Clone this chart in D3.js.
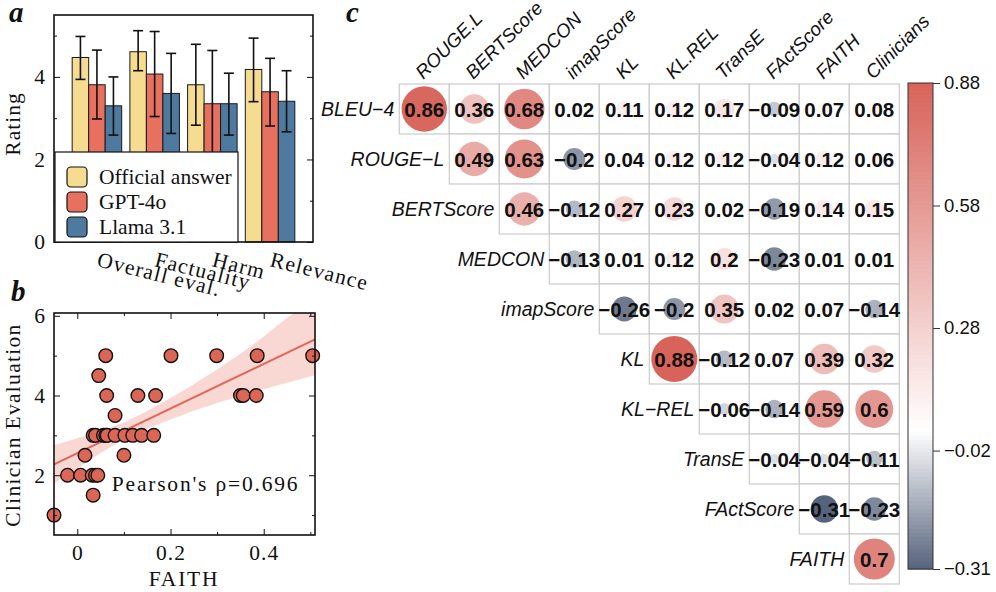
<!DOCTYPE html>
<html><head><meta charset="utf-8">
<script src="https://cdn.jsdelivr.net/npm/d3@7"></script>
<style>body{margin:0;background:#fff} svg{display:block}</style>
</head><body>
<svg id="chart" width="996" height="592"></svg>
<script>
// ---------- Panel a data ----------
const groups = ["Overall eval.", "Factuality", "Harm", "Relevance"];
const seriesNames = ["Official answer", "GPT-4o", "Llama 3.1"];
const seriesColors = ["#F6DC90", "#E8705F", "#4F7AA0"];
const officialMean = [4.47, 4.61, 3.81, 4.18];
const officialLo   = [3.94, 4.15, 2.83, 3.40];
const officialHi   = [4.98, 5.12, 4.79, 4.94];
const gptMean = [3.81, 4.07, 3.35, 3.64];
const gptLo   = [2.98, 3.04, 2.07, 2.81];
const gptHi   = [4.65, 5.10, 4.64, 4.45];
const llamaMean = [3.30, 3.60, 3.35, 3.41];
const llamaLo   = [2.59, 2.63, 2.59, 2.67];
const llamaHi   = [4.00, 4.57, 4.09, 4.15];
const ratingMajor = [0, 2, 4];
const ratingMinor = [1, 3, 5];

// ---------- Panel b data ----------
const faithX = [-0.05, -0.021, 0.007, 0.032, 0.039, 0.044, 0.034, 0.0165, 0.100,
  0.034, 0.039, 0.056, 0.061, 0.064, 0.081, 0.102, 0.119, 0.138, 0.164,
  0.081, 0.063, 0.130, 0.168, 0.350, 0.356, 0.384, 0.046,
  0.061, 0.201, 0.299, 0.386, 0.505];
const clinY = [1, 2, 2, 2, 2, 2, 1.5, 2.5, 2.5,
  3, 3, 3, 3, 3, 3, 3, 3, 3, 3,
  3.5, 4, 4, 4, 4, 4, 4, 4.5,
  5, 5, 5, 5, 5];
const fitX = [-0.05, 0.51];
const fitY = [2.27, 5.41];
const bandX  = [-0.05, 0.0, 0.05, 0.1, 0.15, 0.2, 0.25, 0.3, 0.35, 0.4, 0.45, 0.51];
const bandHi = [2.75, 2.93, 3.10, 3.32, 3.61, 3.94, 4.28, 4.65, 5.05, 5.48, 5.95, 6.40];
const bandLo = [1.79, 2.17, 2.56, 2.90, 3.17, 3.40, 3.62, 3.81, 3.99, 4.16, 4.32, 4.51];
const faithMajor = [0, 0.2, 0.4];
const faithMinor = [0.1, 0.3, 0.5];
const clinMajor = [2, 4, 6];
const clinMinor = [1, 3, 5];
const pearsonText = "Pearson's \u03C1=0.696";

// ---------- Panel c data ----------
const rowLabels = ["BLEU\u22124", "ROUGE\u2212L", "BERTScore", "MEDCON", "imapScore", "KL", "KL\u2212REL", "TransE", "FActScore", "FAITH"];
const colLabels = ["ROUGE.L", "BERTScore", "MEDCON", "imapScore", "KL", "KL.REL", "TransE", "FActScore", "FAITH", "Clinicians"];
const corrRows = [
  [0.86, 0.36, 0.68, 0.02, 0.11, 0.12, 0.17, -0.09, 0.07, 0.08],
  [0.49, 0.63, -0.2, 0.04, 0.12, 0.12, -0.04, 0.12, 0.06],
  [0.46, -0.12, 0.27, 0.23, 0.02, -0.19, 0.14, 0.15],
  [-0.13, 0.01, 0.12, 0.2, -0.23, 0.01, 0.01],
  [-0.26, -0.2, 0.35, 0.02, 0.07, -0.14],
  [0.88, -0.12, 0.07, 0.39, 0.32],
  [-0.06, -0.14, 0.59, 0.6],
  [-0.04, -0.04, -0.11],
  [-0.31, -0.23],
  [0.7]
];
const colorbarTicks = [0.88, 0.58, 0.28, -0.02, -0.31];

const SERIF = "'Liberation Serif', 'Times New Roman', serif";
const SANS = "'Liberation Sans', Arial, Helvetica, sans-serif";
const svg = d3.select("#chart");

// ================= Panel a =================
const gA = svg.append("g");
const xA = d3.scaleBand().domain(groups).range([54, 313]).paddingInner(0.142).paddingOuter(0.315);
const xS = d3.scaleBand().domain(seriesNames).range([0, xA.bandwidth()]);
const yA = d3.scaleLinear().domain([0, 5.5]).range([242, 15]);
const means = [officialMean, gptMean, llamaMean];
const lows = [officialLo, gptLo, llamaLo];
const highs = [officialHi, gptHi, llamaHi];

const barData = [];
seriesNames.forEach((s, si) => groups.forEach((g, gi) => barData.push({
  s, si, g, m: means[si][gi], lo: lows[si][gi], hi: highs[si][gi]
})));

gA.selectAll("rect.bar").data(barData).join("rect").attr("class", "bar")
  .attr("x", d => xA(d.g) + xS(d.s)).attr("width", xS.bandwidth())
  .attr("y", d => yA(d.m)).attr("height", d => yA(0) - yA(d.m))
  .attr("fill", d => seriesColors[d.si]).attr("stroke", "#1a1a1a").attr("stroke-width", 1);

const eb = gA.selectAll("g.eb").data(barData).join("g").attr("class", "eb")
  .attr("stroke", "#111").attr("stroke-width", 1.6);
eb.append("line").attr("x1", d => xA(d.g) + xS(d.s) + xS.bandwidth() / 2)
  .attr("x2", d => xA(d.g) + xS(d.s) + xS.bandwidth() / 2)
  .attr("y1", d => yA(d.lo)).attr("y2", d => yA(d.hi));
[ "lo", "hi" ].forEach(k => eb.append("line")
  .attr("x1", d => xA(d.g) + xS(d.s) + xS.bandwidth() / 2 - 5)
  .attr("x2", d => xA(d.g) + xS(d.s) + xS.bandwidth() / 2 + 5)
  .attr("y1", d => yA(d[k])).attr("y2", d => yA(d[k])));

function styleAxis(g, fontSize) {
  g.select(".domain").remove();
  g.selectAll(".tick line").attr("stroke", "#111").attr("stroke-width", 1);
  g.selectAll("text").attr("font-family", SERIF).attr("font-size", fontSize)
    .attr("fill", "#111").attr("letter-spacing", "1px");
}
gA.append("g").attr("transform", "translate(54,0)")
  .call(d3.axisLeft(yA).tickValues(ratingMajor).tickSize(-6).tickPadding(8).tickFormat(d3.format("d")))
  .call(g => styleAxis(g, 21.5));
gA.append("g").attr("transform", "translate(54,0)")
  .call(d3.axisLeft(yA).tickValues(ratingMinor).tickSize(-3).tickFormat(""))
  .call(g => styleAxis(g, 21.5));
gA.append("g").attr("transform", "translate(313,0)")
  .call(d3.axisRight(yA).tickValues(ratingMajor).tickSize(-6).tickFormat(""))
  .call(g => styleAxis(g, 21.5));
gA.append("g").attr("transform", "translate(313,0)")
  .call(d3.axisRight(yA).tickValues(ratingMinor).tickSize(-3).tickFormat(""))
  .call(g => styleAxis(g, 21.5));

gA.append("rect").attr("x", 54).attr("y", 15).attr("width", 259).attr("height", 227)
  .attr("fill", "none").attr("stroke", "#111").attr("stroke-width", 1.6);

// x labels
gA.selectAll("text.xl").data(groups).join("text").attr("class", "xl")
  .attr("x", d => xA(d) + xA.bandwidth() / 2 - 1).attr("y", 266)
  .attr("transform", d => `rotate(14,${xA(d) + xA.bandwidth() / 2 - 1},266)`)
  .attr("font-family", SERIF).attr("font-size", 21.5).attr("letter-spacing", "1.2px")
  .attr("fill", "#111").text(d => d);

gA.append("text").attr("transform", "translate(19.5,124) rotate(-90)")
  .attr("text-anchor", "middle").attr("font-family", SERIF).attr("font-size", 21.5)
  .attr("letter-spacing", "1px").attr("fill", "#111").text("Rating");

// legend
const legY = d3.scalePoint().domain(seriesNames).range([177, 227]);
gA.append("rect").attr("x", 55).attr("y", 152).attr("width", 183).attr("height", 90)
  .attr("fill", "#fff").attr("stroke", "#111").attr("stroke-width", 1.2);
const lg = gA.selectAll("g.leg").data(seriesNames).join("g").attr("class", "leg");
lg.append("rect").attr("x", 67).attr("y", d => legY(d) - 10).attr("width", 20).attr("height", 20)
  .attr("rx", 4).attr("fill", (d, i) => seriesColors[i]).attr("stroke", "#111").attr("stroke-width", 1.2);
lg.append("text").attr("x", 99).attr("y", d => legY(d) + 7)
  .attr("font-family", SERIF).attr("font-size", 21.5)
  .attr("fill", "#111").text(d => d);

// ================= Panel b =================
const gB = svg.append("g");
const xB = d3.scaleLinear().domain([-0.05, 0.51]).range([54, 315]);
const yB = d3.scaleLinear().domain([0.5, 6.07]).range([535, 313]);
svg.append("defs").append("clipPath").attr("id", "clipB").append("rect")
  .attr("x", 54).attr("y", 313).attr("width", 261).attr("height", 222);
const band = bandX.map((x, i) => ({ x, lo: bandLo[i], hi: bandHi[i] }));
gB.append("path").datum(band).attr("clip-path", "url(#clipB)")
  .attr("d", d3.area().x(d => xB(d.x)).y0(d => yB(d.lo)).y1(d => yB(d.hi)))
  .attr("fill", "#E8705F").attr("fill-opacity", 0.27);
gB.append("path").datum(fitX.map((x, i) => [x, fitY[i]])).attr("clip-path", "url(#clipB)")
  .attr("d", d3.line().x(d => xB(d[0])).y(d => yB(d[1])))
  .attr("stroke", "#E0685A").attr("stroke-width", 2).attr("fill", "none");
gB.selectAll("circle").data(faithX.map((x, i) => [x, clinY[i]])).join("circle")
  .attr("cx", d => xB(d[0])).attr("cy", d => yB(d[1])).attr("r", 6.8)
  .attr("fill", "#DC6656").attr("stroke", "#111").attr("stroke-width", 1.4);

gB.append("g").attr("transform", "translate(54,0)")
  .call(d3.axisLeft(yB).tickValues(clinMajor).tickSize(-6).tickPadding(8).tickFormat(d3.format("d")))
  .call(g => styleAxis(g, 21.5));
gB.append("g").attr("transform", "translate(54,0)")
  .call(d3.axisLeft(yB).tickValues(clinMinor).tickSize(-3).tickFormat("")).call(g => styleAxis(g, 21.5));
gB.append("g").attr("transform", "translate(315,0)")
  .call(d3.axisRight(yB).tickValues(clinMajor).tickSize(-6).tickFormat("")).call(g => styleAxis(g, 21.5));
gB.append("g").attr("transform", "translate(315,0)")
  .call(d3.axisRight(yB).tickValues(clinMinor).tickSize(-3).tickFormat("")).call(g => styleAxis(g, 21.5));
gB.append("g").attr("transform", "translate(0,535)")
  .call(d3.axisBottom(xB).tickValues(faithMajor).tickSize(-6).tickPadding(10).tickFormat(d => d === 0 ? "0" : d3.format(".1f")(d)))
  .call(g => styleAxis(g, 21.5));
gB.append("g").attr("transform", "translate(0,535)")
  .call(d3.axisBottom(xB).tickValues(faithMinor).tickSize(-3).tickFormat("")).call(g => styleAxis(g, 21.5));
gB.append("g").attr("transform", "translate(0,313)")
  .call(d3.axisTop(xB).tickValues(faithMajor).tickSize(-6).tickFormat("")).call(g => styleAxis(g, 21.5));
gB.append("g").attr("transform", "translate(0,313)")
  .call(d3.axisTop(xB).tickValues(faithMinor).tickSize(-3).tickFormat("")).call(g => styleAxis(g, 21.5));
gB.append("rect").attr("x", 54).attr("y", 313).attr("width", 261).attr("height", 222)
  .attr("fill", "none").attr("stroke", "#111").attr("stroke-width", 1.6);

gB.append("text").attr("x", xB(0.074)).attr("y", yB(1.6))
  .attr("font-family", SERIF).attr("font-size", 21.5).attr("letter-spacing", "1.8px")
  .attr("fill", "#111").text(pearsonText);
gB.append("text").attr("x", 184).attr("y", 586).attr("text-anchor", "middle")
  .attr("font-family", SERIF).attr("font-size", 21.5).attr("letter-spacing", "1.8px")
  .attr("fill", "#111").text("FAITH");
gB.append("text").attr("transform", "translate(19.5,425) rotate(-90)")
  .attr("text-anchor", "middle").attr("font-family", SERIF).attr("font-size", 21.5)
  .attr("letter-spacing", "1.3px").attr("fill", "#111").text("Clinician Evaluation");

// panel letters
[["a", 9, 22], ["b", 11, 301], ["c", 346, 22]].forEach(([t, x, y]) =>
  svg.append("text").attr("x", x).attr("y", y).attr("font-family", SERIF)
    .attr("font-size", 29).attr("font-weight", "bold").attr("font-style", "italic")
    .attr("fill", "#111").text(t));

// ================= Panel c =================
const gC = svg.append("g");
const xC = d3.scaleBand().domain(colLabels).range([399.3, 899.3]);
const yC = d3.scaleBand().domain(rowLabels).range([84, 584]);
const color = d3.scaleLinear().domain([-0.31, 0.03, 0.88]).range(["#56637C", "#FFFFFF", "#D7635A"]);
const rScale = d3.scaleSqrt().domain([0, 0.88]).range([0, 23]);
const cells = [];
corrRows.forEach((row, ri) => row.forEach((v, k) => cells.push({ r: rowLabels[ri], c: colLabels[ri + k], v })));

gC.selectAll("rect.cell").data(cells).join("rect").attr("class", "cell")
  .attr("x", d => xC(d.c)).attr("y", d => yC(d.r)).attr("width", xC.bandwidth()).attr("height", yC.bandwidth())
  .attr("fill", "#fff").attr("stroke", "#CBCBCB").attr("stroke-width", 1.2);
gC.selectAll("circle").data(cells).join("circle")
  .attr("cx", d => xC(d.c) + xC.bandwidth() / 2).attr("cy", d => yC(d.r) + yC.bandwidth() / 2)
  .attr("r", d => rScale(Math.abs(d.v))).attr("fill", d => color(d.v));
gC.selectAll("text.val").data(cells).join("text").attr("class", "val")
  .attr("x", d => xC(d.c) + xC.bandwidth() / 2).attr("y", d => yC(d.r) + yC.bandwidth() / 2 + 7.5)
  .attr("text-anchor", "middle").attr("font-family", SANS).attr("font-weight", "bold")
  .attr("font-size", 20.5).attr("fill", "#111").text(d => String(d.v).replace("-", "\u2212"));

gC.selectAll("text.rl").data(rowLabels).join("text").attr("class", "rl")
  .attr("x", (d, i) => xC(colLabels[i]) - 5).attr("y", d => yC(d) + yC.bandwidth() / 2 + 6.5)
  .attr("text-anchor", "end").attr("font-family", SANS).attr("font-style", "italic")
  .attr("font-size", 19.5).attr("fill", "#111").text(d => d);
gC.selectAll("text.cl").data(colLabels).join("text").attr("class", "cl")
  .attr("transform", d => `translate(${xC(d) + xC.bandwidth() / 2 - 1},80) rotate(-45)`)
  .attr("font-family", SANS).attr("font-style", "italic")
  .attr("font-size", 19).attr("fill", "#111").text(d => d);

// colorbar
const cbY = d3.scaleLinear().domain([-0.31, 0.88]).range([569, 83]);
const cbSteps = d3.range(0, 120).map(i => -0.31 + (i / 120) * 1.19);
gC.selectAll("rect.cb").data(cbSteps).join("rect").attr("class", "cb")
  .attr("x", 908).attr("width", 25)
  .attr("y", d => cbY(d + 1.19 / 120)).attr("height", d => cbY(d) - cbY(d + 1.19 / 120) + 0.6)
  .attr("fill", d => color(d + 1.19 / 240));
gC.append("rect").attr("x", 908).attr("y", 83).attr("width", 25).attr("height", 486)
  .attr("fill", "none").attr("stroke", "#333").attr("stroke-width", 1);
const cbAxis = gC.append("g").attr("transform", "translate(933,0)")
  .call(d3.axisRight(cbY).tickValues(colorbarTicks).tickSize(7).tickPadding(4)
    .tickFormat(d => d3.format(".2f")(d).replace("-", "\u2212")));
cbAxis.select(".domain").remove();
cbAxis.selectAll(".tick line").attr("stroke", "#333");
cbAxis.selectAll("text").attr("font-family", SANS).attr("font-size", 18.5).attr("fill", "#111");
</script>
</body></html>
